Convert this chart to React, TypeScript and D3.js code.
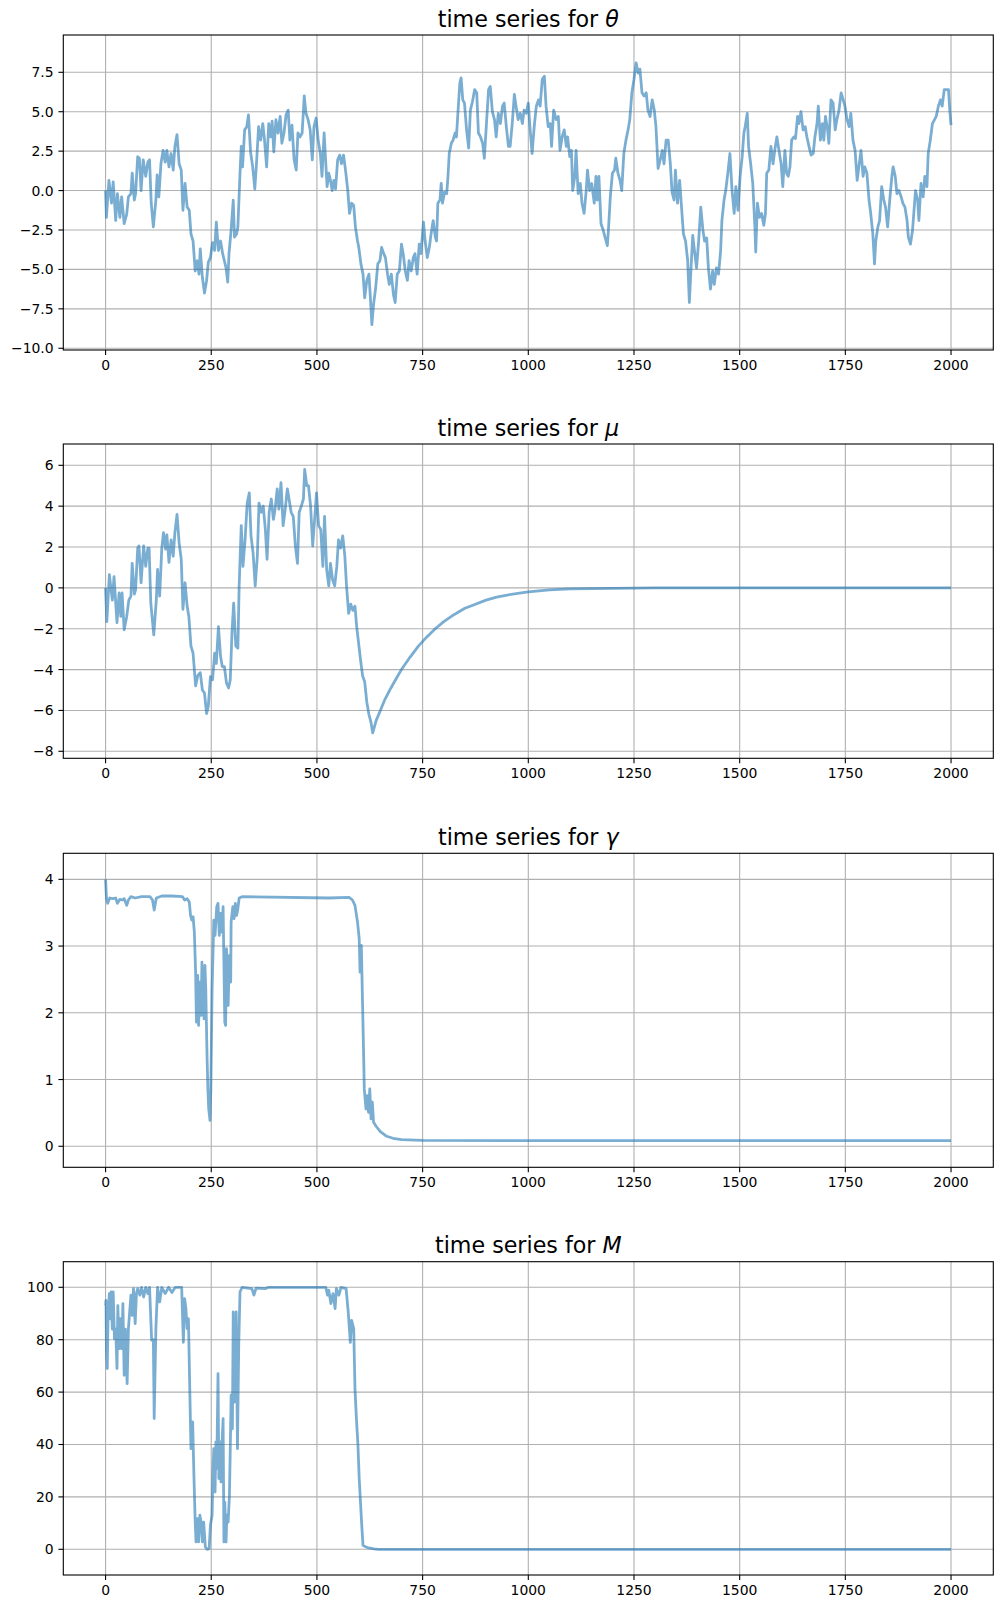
import React from 'react';
import * as d3 from 'd3';

// values, as [step, value]
const thetaData: [number, number][] = [
  [0,0],[2,-1.7],[8,0.65],[14,-0.8],[18,0.55],[24,-1.9],[28,-0.2],[34,-1.7],[38,-0.4],[44,-2.1],[50,-1.5],[54,-0.4],[60,-0.2],[63,1.1],[68,-0.6],[71,-0.2],[76,2.15],[80,2.05],[84,0],[89,1.95],[95,0.9],[100,1.8],[104,1.95],[108,-0.8],[113,-2.3],[119,-0.6],[122,1.0],[126,-0.4],[131,1.7],[136,2.55],[141,1.8],[145,2.55],[150,1.5],[155,2.35],[160,1.3],[164,2.8],[169,3.55],[174,1.7],[179,1.3],[183,-1.25],[188,0.45],[193,-1.05],[198,-1.25],[202,-2.75],[207,-3.2],[212,-5.1],[217,-4.45],[221,-5.3],[224,-3.7],[229,-5.5],[234,-6.5],[239,-5.7],[243,-4.55],[248,-4.25],[253,-3.3],[258,-3.8],[262,-2.0],[267,-3.8],[272,-3.2],[277,-4.0],[281,-4.45],[285,-4.9],[289,-5.8],[292,-4.0],[297,-2.5],[302,-0.6],[305,-2.95],[310,-2.75],[313,-2.3],[318,1.1],[321,2.8],[324,1.5],[329,3.85],[334,4.05],[338,4.8],[343,2.45],[348,1.5],[353,0.1],[357,1.7],[362,4.05],[367,3.2],[372,4.25],[376,3.2],[381,1.5],[386,4.25],[391,3.4],[394,4.4],[398,2.45],[403,4.5],[408,3.65],[413,4.7],[417,3.0],[422,3.65],[427,4.8],[432,5.1],[436,3.2],[441,4.15],[446,1.95],[451,1.3],[455,3.65],[460,3.4],[465,3.65],[470,6.0],[474,4.9],[479,4.5],[484,3.85],[489,1.95],[493,4.05],[498,4.6],[503,3.2],[508,2.35],[512,0.9],[517,3.65],
  [524,0.25],[528,1.1],[532,0.65],[536,0],[540,0.65],[544,0.1],[549,1.95],[554,2.25],[558,1.7],[563,2.25],[568,1.2],[573,0],[577,-1.45],[582,-0.8],[587,-0.95],[591,-2.3],[596,-3.2],[599,-3.6],[604,-4.65],[609,-5.3],[613,-6.8],[618,-5.7],[623,-5.3],[626,-6.6],[630,-8.5],[634,-7.2],[639,-6.15],[644,-4.65],[649,-4.45],[653,-3.6],[658,-4.0],[662,-4.25],[667,-5.3],[671,-5.95],[676,-5.3],[681,-6.6],[685,-7.1],[690,-5.3],[695,-5.1],[700,-3.4],[704,-4.0],[709,-5.1],[714,-5.7],[718,-4.45],[723,-5.1],[728,-4.25],[732,-4.0],[737,-5.3],[742,-3.4],[746,-4.0],[752,-2.0],[756,-3.2],[761,-4.25],[766,-3.6],[770,-2.75],[775,-1.9],[780,-2.95],[783,-3.2],[786,-0.8],[791,-0.6],[794,0.45],[797,-0.8],[802,-0.1],[807,-0.2],[810,0.9],[813,2.35],[818,3.0],[822,3.2],[827,3.65],[830,3.4],[833,4.7],[838,6.8],[841,7.15],[845,5.75],[849,5.55],[854,3.85],[859,2.7],[863,5.1],[868,5.65],[873,6.4],[878,6.2],[882,3.65],[887,3.4],[892,3.0],[896,2.05],[901,4.25],[906,6.4],[910,6.6],[915,5.0],[920,4.5],[924,3.4],[929,4.9],[934,4.25],[939,5.35],[943,5.55],[948,4.05],[953,2.8],[957,2.8],[962,4.25],[967,6.1],[971,5.35],[976,4.5],[981,4.9],[986,4.25],[990,5.1],[995,4.9],[1000,5.55],[1005,3.65],[1009,2.35],[1014,4.05],[1019,5.35],[1024,5.75],[1028,5.35],[1033,7.05],[1038,7.25],[1042,5.35],[1047,4.05],[1052,4.25],[1055,2.8],[1060,5.1],
  [1066,4.5],[1071,4.7],[1075,2.55],[1080,3.4],[1085,3.85],[1090,2.8],[1093,3.4],[1098,2.15],[1102,2.55],[1105,0],[1110,0.9],[1113,2.55],[1118,-0.2],[1123,0.45],[1127,-0.8],[1132,-1.45],[1137,0],[1140,1.3],[1145,0],[1150,0.45],[1156,-0.8],[1160,0.9],[1163,-0.6],[1167,0.9],[1172,-2.1],[1177,-2.5],[1182,-3.0],[1187,-3.5],[1190,-2.3],[1194,-0.4],[1199,1.1],[1204,1.3],[1207,2.05],[1212,1.1],[1217,0.65],[1221,0],[1226,2.35],[1231,3.2],[1236,3.85],[1240,4.5],[1245,6.2],[1250,7.05],[1255,8.1],[1260,7.45],[1264,7.7],[1269,6.2],[1274,6.0],[1279,6.2],[1283,5.1],[1288,4.7],[1293,5.75],[1298,5.1],[1302,4.05],[1307,1.4],[1312,1.95],[1317,2.55],[1321,1.7],[1326,3.2],[1331,3.2],[1336,1.7],[1340,-0.1],[1345,-0.6],[1348,1.3],[1353,-0.8],[1358,0.65],[1363,-1.25],[1367,-2.75],[1372,-3.2],[1377,-4.45],[1381,-7.1],[1385,-4.9],[1389,-2.85],[1393,-3.8],[1398,-4.9],[1403,-3.2],[1408,-1.05],[1413,-2.5],[1417,-3.2],[1422,-3.0],[1426,-4.9],[1431,-6.25],[1436,-5.1],[1440,-5.95],[1445,-4.9],[1450,-5.3],[1455,-3.8],[1458,-1.9],[1463,-0.6],[1467,0],[1472,1.1],[1477,2.35],[1482,0],[1487,-1.45],[1491,0.25],[1496,-1.25],[1501,0.9],[1506,2.15],[1510,3.65],[1513,4.05],[1518,4.9],[1521,2.8],[1526,1.7],[1531,0.45],[1536,-2.3],[1538,-3.9],[1542,-0.8],[1547,-1.7],[1552,-1.45],[1557,-2.2],[1561,-1.45],[1564,1.1],[1569,1.3],[1574,2.8],[1579,1.7],[1583,2.55],[1588,3.4],[1593,2.55],[1598,1.7],[1602,0.25],
  [1607,2.55],[1611,1.1],[1615,0.9],[1619,1.5],[1623,3.2],[1628,3.4],[1632,3.3],[1637,4.7],[1640,4.25],[1645,5.0],[1650,3.85],[1655,4.05],[1659,3.4],[1664,2.8],[1669,2.25],[1674,2.35],[1678,3.4],[1683,4.25],[1686,5.35],[1691,3.2],[1696,4.25],[1699,3.2],[1703,4.7],[1708,3.85],[1711,3.0],[1716,5.75],[1721,5.55],[1726,3.85],[1730,4.5],[1735,5.1],[1740,6.2],[1744,5.85],[1749,5.35],[1754,4.5],[1759,4.05],[1763,4.9],[1768,3.2],[1773,2.55],[1778,0.65],[1782,1.5],[1787,2.55],[1792,0.9],[1796,1.5],[1801,1.1],[1806,-0.6],[1810,-1.45],[1815,-2.75],[1819,-4.65],[1822,-3.2],[1827,-2.3],[1831,-1.9],[1836,0.25],[1841,-0.6],[1845,-1.05],[1850,-2.3],[1855,-0.6],[1860,0.9],[1863,1.5],[1868,0.9],[1872,-0.2],[1877,0],[1882,-0.4],[1886,-0.8],[1891,-1.05],[1896,-1.9],[1899,-2.95],[1904,-3.4],[1909,-2.5],[1913,-1.05],[1916,0],[1921,-0.6],[1924,-1.9],[1929,0.45],[1934,-0.4],[1938,0.9],[1943,0.25],[1946,2.35],[1951,3.2],[1956,4.25],[1961,4.5],[1965,4.7],[1970,5.35],[1975,5.75],[1979,5.35],[1984,6.4],[1989,6.4],[1994,6.4],[1997,5.1],[2000,4.15]
];

const muData: [number, number][] = [
  [0,0],[3,-1.65],[9,0.65],[16,-0.6],[20,0.55],[27,-1.7],[32,-0.25],[36,-1.4],[39,-0.25],[44,-2.05],[50,-1.4],[55,-0.6],[60,-0.4],[63,1.2],[68,-0.3],[71,-0.1],[76,1.95],[79,2.05],[84,0.25],[90,2.05],[95,1.05],[100,1.95],[103,1.95],[107,-0.75],[114,-2.3],[120,-0.6],[123,0.9],[128,-0.4],[133,1.95],[137,2.7],[142,1.9],[145,2.6],[150,1.25],[155,2.35],[160,1.55],[164,2.7],[169,3.6],[174,2.2],[179,1.4],[183,-1.05],[188,0.25],[193,-0.9],[197,-1.4],[202,-2.85],[207,-3.2],[213,-4.8],[218,-4.3],[224,-4.15],[229,-5.0],[234,-5.15],[239,-6.15],[243,-5.8],[248,-4.35],[253,-4.5],[258,-3.2],[262,-3.7],[267,-1.9],[272,-3.35],[276,-3.85],[281,-3.85],[286,-4.65],[291,-4.9],[295,-4.5],[299,-2.2],[303,-0.75],[308,-2.85],[313,-2.95],[316,0.1],[321,3.05],[325,1.05],[330,2.35],[335,4.15],[340,4.65],[344,2.55],[349,1.7],[354,0.1],[359,1.55],[363,4.15],[368,3.7],[373,4.0],[378,2.85],[382,1.4],[387,3.7],[392,4.35],[397,3.35],[401,3.85],[406,4.85],[410,3.85],[415,5.15],[420,3.05],[425,3.85],[430,4.85],[434,4.35],[439,3.7],[444,3.5],[449,2.05],[454,1.2],[458,3.7],[463,4.0],[468,4.35],[471,5.8],[476,5.0],[480,5.0],[485,4.0],[490,2.05],[494,3.2],[499,4.65],[504,3.05],[509,2.85],[514,1.05],[518,3.5],[523,0.9],[528,0.1],[532,1.2],[537,0.4],[542,0.1],[547,1.05],[551,2.35],[556,1.95],[561,2.55],[566,1.55],[570,0.1],[575,-1.25],[580,-0.8],[585,-1.1],[590,-0.9],[594,-1.9],[598,-2.6],[603,-3.5],[608,-4.3],[613,-4.6],[618,-5.6],[623,-6.2],[628,-6.6],[632,-7.1],
  [640,-6.5],[650,-6.0],[660,-5.5],[675,-4.9],[690,-4.35],[700,-4.0],[720,-3.4],[740,-2.85],[760,-2.4],[780,-2.0],[800,-1.65],[825,-1.3],[850,-1.0],[875,-0.8],[900,-0.6],[925,-0.45],[950,-0.35],[975,-0.27],[1000,-0.2],[1050,-0.1],[1100,-0.05],[1200,-0.02],[1300,0],[2000,0]
];

const gammaData: [number, number][] = [
  [0,4.0],[2,3.73],[5,3.64],[10,3.72],[18,3.71],[24,3.72],[28,3.64],[34,3.70],[40,3.69],[44,3.71],[50,3.61],[54,3.69],[60,3.74],[70,3.72],[85,3.74],[105,3.74],[111,3.69],[115,3.54],[120,3.72],[133,3.75],[157,3.75],[182,3.74],[187,3.69],[193,3.71],[198,3.66],[201,3.46],[204,3.39],[207,3.44],[210,3.21],[213,2.61],[215,1.86],[218,2.56],[220,1.81],[223,2.46],[226,1.96],[228,2.76],[230,2.26],[233,1.91],[235,2.71],[237,2.36],[240,1.36],[242,0.86],[244,0.56],[247,0.39],[249,0.86],[252,2.36],[254,2.86],[256,3.39],[259,3.16],[263,3.59],[266,3.64],[269,3.16],[272,3.49],[275,3.21],[278,3.59],[282,1.86],[284,1.81],[286,2.96],[290,2.11],[293,2.86],[296,2.46],[297,3.36],[301,3.59],[304,3.41],[307,3.64],[310,3.46],[313,3.56],[316,3.72],[323,3.74],[528,3.72],[576,3.73],[584,3.69],[590,3.61],[596,3.36],[600,3.11],[602,2.61],[605,3.01],[608,2.11],[610,1.51],[612,0.86],[616,0.56],[619,0.76],[622,0.51],[625,0.86],[628,0.41],[631,0.66],[634,0.36],[640,0.3],[650,0.22],[665,0.15],[680,0.12],[700,0.1],[750,0.09],[1000,0.085],[2000,0.085]
];

const mData: [number, number][] = [
  [0,93],[1,95],[2,76.6],[4,69],[6,90.6],[9,97.6],[11,88],[13,98.2],[16,84],[18,98.2],[21,80.4],[24,84],[27,69],[29,93],[32,76.6],[35,88],[38,76.6],[41,93.8],[44,66.4],[47,84],[51,63.2],[54,84],[57,90.6],[60,97],[63,89.3],[66,99.5],[70,86.1],[73,97.6],[76,99.5],[81,97],[85,100],[90,96.3],[95,100],[100,97.6],[104,100],[109,79.8],[113,80],[115,49.9],[119,84],[123,100],[128,94.4],[133,100],[141,97.6],[149,100],[157,98],[165,100],[180,100],[184,79],[187,95.7],[190,91.9],[193,84.2],[196,88],[199,62.6],[202,38.4],[206,48.6],[209,28.2],[212,10.4],[214,2.8],[217,11.7],[220,2.8],[223,13],[226,10.4],[229,2.8],[232,10.4],[236,0.9],[240,0],[245,0.2],[248,9.2],[252,13],[254,29.5],[256,38.4],[259,21.9],[261,41],[263,30.8],[266,67],[268,27],[271,41],[273,25.7],[275,38.4],[278,49.9],[280,2.8],[282,18],[285,2.8],[287,13],[290,10.4],[293,20.6],[295,38.4],[297,58.8],[300,46],[302,90.6],[305,56.2],[309,90.6],[312,38.4],[315,77.9],[318,98.2],[323,100],[346,99.5],[351,97],[356,99.7],[378,99.5],[386,100],[521,100],[525,97],[528,98.9],[533,93.8],[538,97.6],[543,91.9],[546,99.5],[552,97],[557,100],[569,99.5],[574,90.6],[579,79],[582,87.4],[587,84.2],[590,61.3],[593,51.1],[597,39.7],[600,27],[603,18],[606,9.2],[609,1.5],[616,0.9],[623,0.5],[635,0.2],[645,0],[2000,0]
];

const xTicks = [0, 250, 500, 750, 1000, 1250, 1500, 1750, 2000];
const thetaTicks = [-10, -7.5, -5, -2.5, 0, 2.5, 5, 7.5];
const muTicks = [-8, -6, -4, -2, 0, 2, 4, 6];
const gammaTicks = [0, 1, 2, 3, 4];
const mTicks = [0, 20, 40, 60, 80, 100];
const symbols = ['θ', 'μ', 'γ', 'M'];

const FONT = '"DejaVu Sans", sans-serif';
const LEFT = 63.3;
const RIGHT = 993.3;

const panels = [
  { data: thetaData, ticks: thetaTicks, domain: [-10.11, 9.865], top: 35, bottom: 350, fmt: (v: number) => v.toFixed(1) },
  { data: muData, ticks: muTicks, domain: [-8.343, 7.043], top: 444, bottom: 758.3, fmt: (v: number) => String(v) },
  { data: gammaData, ticks: gammaTicks, domain: [-0.315, 4.39], top: 853.3, bottom: 1167.3, fmt: (v: number) => String(v) },
  { data: mData, ticks: mTicks, domain: [-9.81, 109.77], top: 1261.7, bottom: 1575, fmt: (v: number) => String(v) },
];

function minus(s: string) {
  return s.replace('-', '\u2212');
}

function Panel({ p, symbol, idx }: any) {
  const x = d3.scaleLinear().domain([-100, 2100]).range([LEFT, RIGHT]);
  const y = d3.scaleLinear().domain(p.domain).range([p.bottom, p.top]);
  const line = d3.line<[number, number]>()
    .x(d => x(d[0]))
    .y(d => y(d[1]));
  const clipId = 'clip' + idx;

  return (
    <g>
      <defs>
        <clipPath id={clipId}>
          <rect x={LEFT} y={p.top} width={RIGHT - LEFT} height={p.bottom - p.top} />
        </clipPath>
      </defs>
      {xTicks.map(t => (
        <line key={'gx' + t} x1={x(t)} x2={x(t)} y1={p.top} y2={p.bottom} stroke="#b0b0b0" strokeWidth={1.1} />
      ))}
      {p.ticks.map((t: number) => (
        <line key={'gy' + t} x1={LEFT} x2={RIGHT} y1={y(t)} y2={y(t)} stroke="#b0b0b0" strokeWidth={1.1} />
      ))}
      <path d={line(p.data) || ''} fill="none" stroke="#1f77b4" strokeOpacity={0.6} strokeWidth={2.78}
        strokeLinejoin="round" clipPath={`url(#${clipId})`} />
      <rect x={LEFT} y={p.top} width={RIGHT - LEFT} height={p.bottom - p.top} fill="none" stroke="#000" strokeWidth={1.1} />
      {xTicks.map(t => (
        <g key={'tx' + t}>
          <line x1={x(t)} x2={x(t)} y1={p.bottom} y2={p.bottom + 4.9} stroke="#000" strokeWidth={1.1} />
          <text x={x(t)} y={p.bottom + 20} textAnchor="middle" fontSize={13.9} fontFamily={FONT}>{t}</text>
        </g>
      ))}
      {p.ticks.map((t: number) => (
        <g key={'ty' + t}>
          <line x1={LEFT - 4.9} x2={LEFT} y1={y(t)} y2={y(t)} stroke="#000" strokeWidth={1.1} />
          <text x={LEFT - 9.7} y={y(t) + 5} textAnchor="end" fontSize={13.9} fontFamily={FONT}>{minus(p.fmt(t))}</text>
        </g>
      ))}
      <text x={(LEFT + RIGHT) / 2} y={p.top - 8.3} textAnchor="middle" fontSize={22.2} fontFamily={FONT}>
        time series for <tspan fontStyle="italic">{symbol}</tspan>
      </text>
    </g>
  );
}

export default function App() {
  return (
    <svg width={1002} height={1609} style={{ position: 'absolute', left: 0, top: 0, background: '#fff' }}>
      <rect width={1002} height={1609} fill="#fff" />
      {panels.map((p, i) => (
        <Panel key={i} p={p} symbol={symbols[i]} idx={i} />
      ))}
    </svg>
  );
}
